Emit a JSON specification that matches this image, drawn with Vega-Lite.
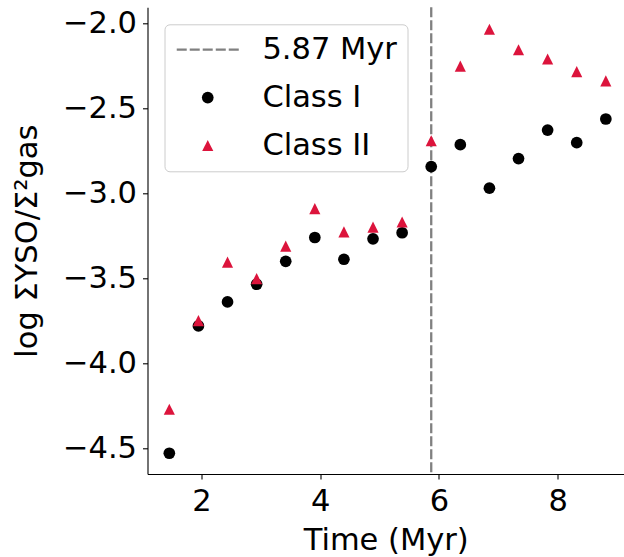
{
  "$schema": "https://vega.github.io/schema/vega-lite/v6.json",
  "autosize": {"type": "none"},
  "padding": {"left": 147.5, "top": 7.3, "right": 0, "bottom": 83},
  "width": 476.5,
  "height": 466.7,
  "config": {
    "view": {"stroke": null},
    "font": "DejaVu Sans",
    "axis": {
      "labelFont": "DejaVu Sans", "titleFont": "DejaVu Sans",
      "labelFontSize": 30.5, "titleFontSize": 30.5, "titleFontWeight": "normal",
      "labelColor": "black", "titleColor": "black",
      "tickColor": "black", "tickSize": 5, "tickWidth": 1.1,
      "domainColor": "black", "domainWidth": 1.1, "grid": false
    }
  },
  "layer": [
    {
      "mark": {"type": "rule", "color": "black", "strokeWidth": 1.1},
      "encoding": {"y": {"datum": -1.904}}
    },
    {
      "data": {"values": [{"t": 5.87}]},
      "mark": {"type": "rule", "color": "gray", "strokeWidth": 2.3, "strokeDash": [10, 3]},
      "encoding": {
        "x": {"field": "t", "type": "quantitative"}
      }
    },
    {
      "data": {"values": [
        {"t": 1.46, "v": -4.527, "cls": "Class I"},
        {"t": 1.95, "v": -3.778, "cls": "Class I"},
        {"t": 2.44, "v": -3.637, "cls": "Class I"},
        {"t": 2.93, "v": -3.533, "cls": "Class I"},
        {"t": 3.42, "v": -3.398, "cls": "Class I"},
        {"t": 3.91, "v": -3.258, "cls": "Class I"},
        {"t": 4.40, "v": -3.386, "cls": "Class I"},
        {"t": 4.89, "v": -3.266, "cls": "Class I"},
        {"t": 5.38, "v": -3.230, "cls": "Class I"},
        {"t": 5.87, "v": -2.841, "cls": "Class I"},
        {"t": 6.36, "v": -2.712, "cls": "Class I"},
        {"t": 6.85, "v": -2.968, "cls": "Class I"},
        {"t": 7.34, "v": -2.794, "cls": "Class I"},
        {"t": 7.83, "v": -2.626, "cls": "Class I"},
        {"t": 8.32, "v": -2.700, "cls": "Class I"},
        {"t": 8.81, "v": -2.561, "cls": "Class I"},
        {"t": 1.46, "v": -4.268, "cls": "Class II"},
        {"t": 1.95, "v": -3.747, "cls": "Class II"},
        {"t": 2.44, "v": -3.403, "cls": "Class II"},
        {"t": 2.93, "v": -3.500, "cls": "Class II"},
        {"t": 3.42, "v": -3.309, "cls": "Class II"},
        {"t": 3.91, "v": -3.088, "cls": "Class II"},
        {"t": 4.40, "v": -3.225, "cls": "Class II"},
        {"t": 4.89, "v": -3.197, "cls": "Class II"},
        {"t": 5.38, "v": -3.167, "cls": "Class II"},
        {"t": 5.87, "v": -2.689, "cls": "Class II"},
        {"t": 6.36, "v": -2.250, "cls": "Class II"},
        {"t": 6.85, "v": -2.033, "cls": "Class II"},
        {"t": 7.34, "v": -2.154, "cls": "Class II"},
        {"t": 7.83, "v": -2.208, "cls": "Class II"},
        {"t": 8.32, "v": -2.282, "cls": "Class II"},
        {"t": 8.81, "v": -2.337, "cls": "Class II"}
      ]},
      "mark": {"type": "point", "filled": true, "opacity": 1, "size": 137, "strokeWidth": 0},
      "encoding": {
        "x": {"field": "t", "type": "quantitative",
              "scale": {"domain": [1.0925, 9.116], "nice": false, "zero": false},
              "axis": {"orient": "bottom", "values": [2, 4, 6, 8], "format": "d",
                       "labelPadding": 7.5, "title": "Time (Myr)", "titlePadding": 8}},
        "y": {"field": "v", "type": "quantitative",
              "scale": {"domain": [-4.649, -1.904], "nice": false, "zero": false},
              "axis": {"values": [-4.5, -4, -3.5, -3, -2.5, -2], "format": ".1f",
                       "labelPadding": 6, "title": "log ΣYSO/Σ²gas", "titlePadding": 20}},
        "color": {"field": "cls", "type": "nominal",
                  "scale": {"domain": ["5.87 Myr", "Class I", "Class II"], "range": ["gray", "black", "crimson"]}},
        "shape": {"field": "cls", "type": "nominal",
                  "scale": {"domain": ["5.87 Myr", "Class I", "Class II"],
                            "range": ["M-5.3,-0.2H-3.59V0.2H-5.3ZM-3.08,-0.2H-1.37V0.2H-3.08ZM-0.86,-0.2H0.85V0.2H-0.86ZM1.37,-0.2H3.08V0.2H1.37ZM3.59,-0.2H5.3V0.2H3.59Z", "circle", "M0,-0.95L-0.95,0.95L0.95,0.95Z"]},
                  "legend": {
                    "title": null, "orient": "top-left", "offset": 16.5,
                    "labelFont": "DejaVu Sans", "labelFontSize": 30.5, "labelColor": "black",
                    "symbolSize": 137, "symbolOffset": 18, "labelOffset": 39.4,
                    "rowPadding": 17, "padding": 10,
                    "strokeColor": "#cccccc", "cornerRadius": 5, "fillColor": "white",
                    "symbolOpacity": 1, "symbolStrokeWidth": 0
                  }}
      }
    }
  ]
}
